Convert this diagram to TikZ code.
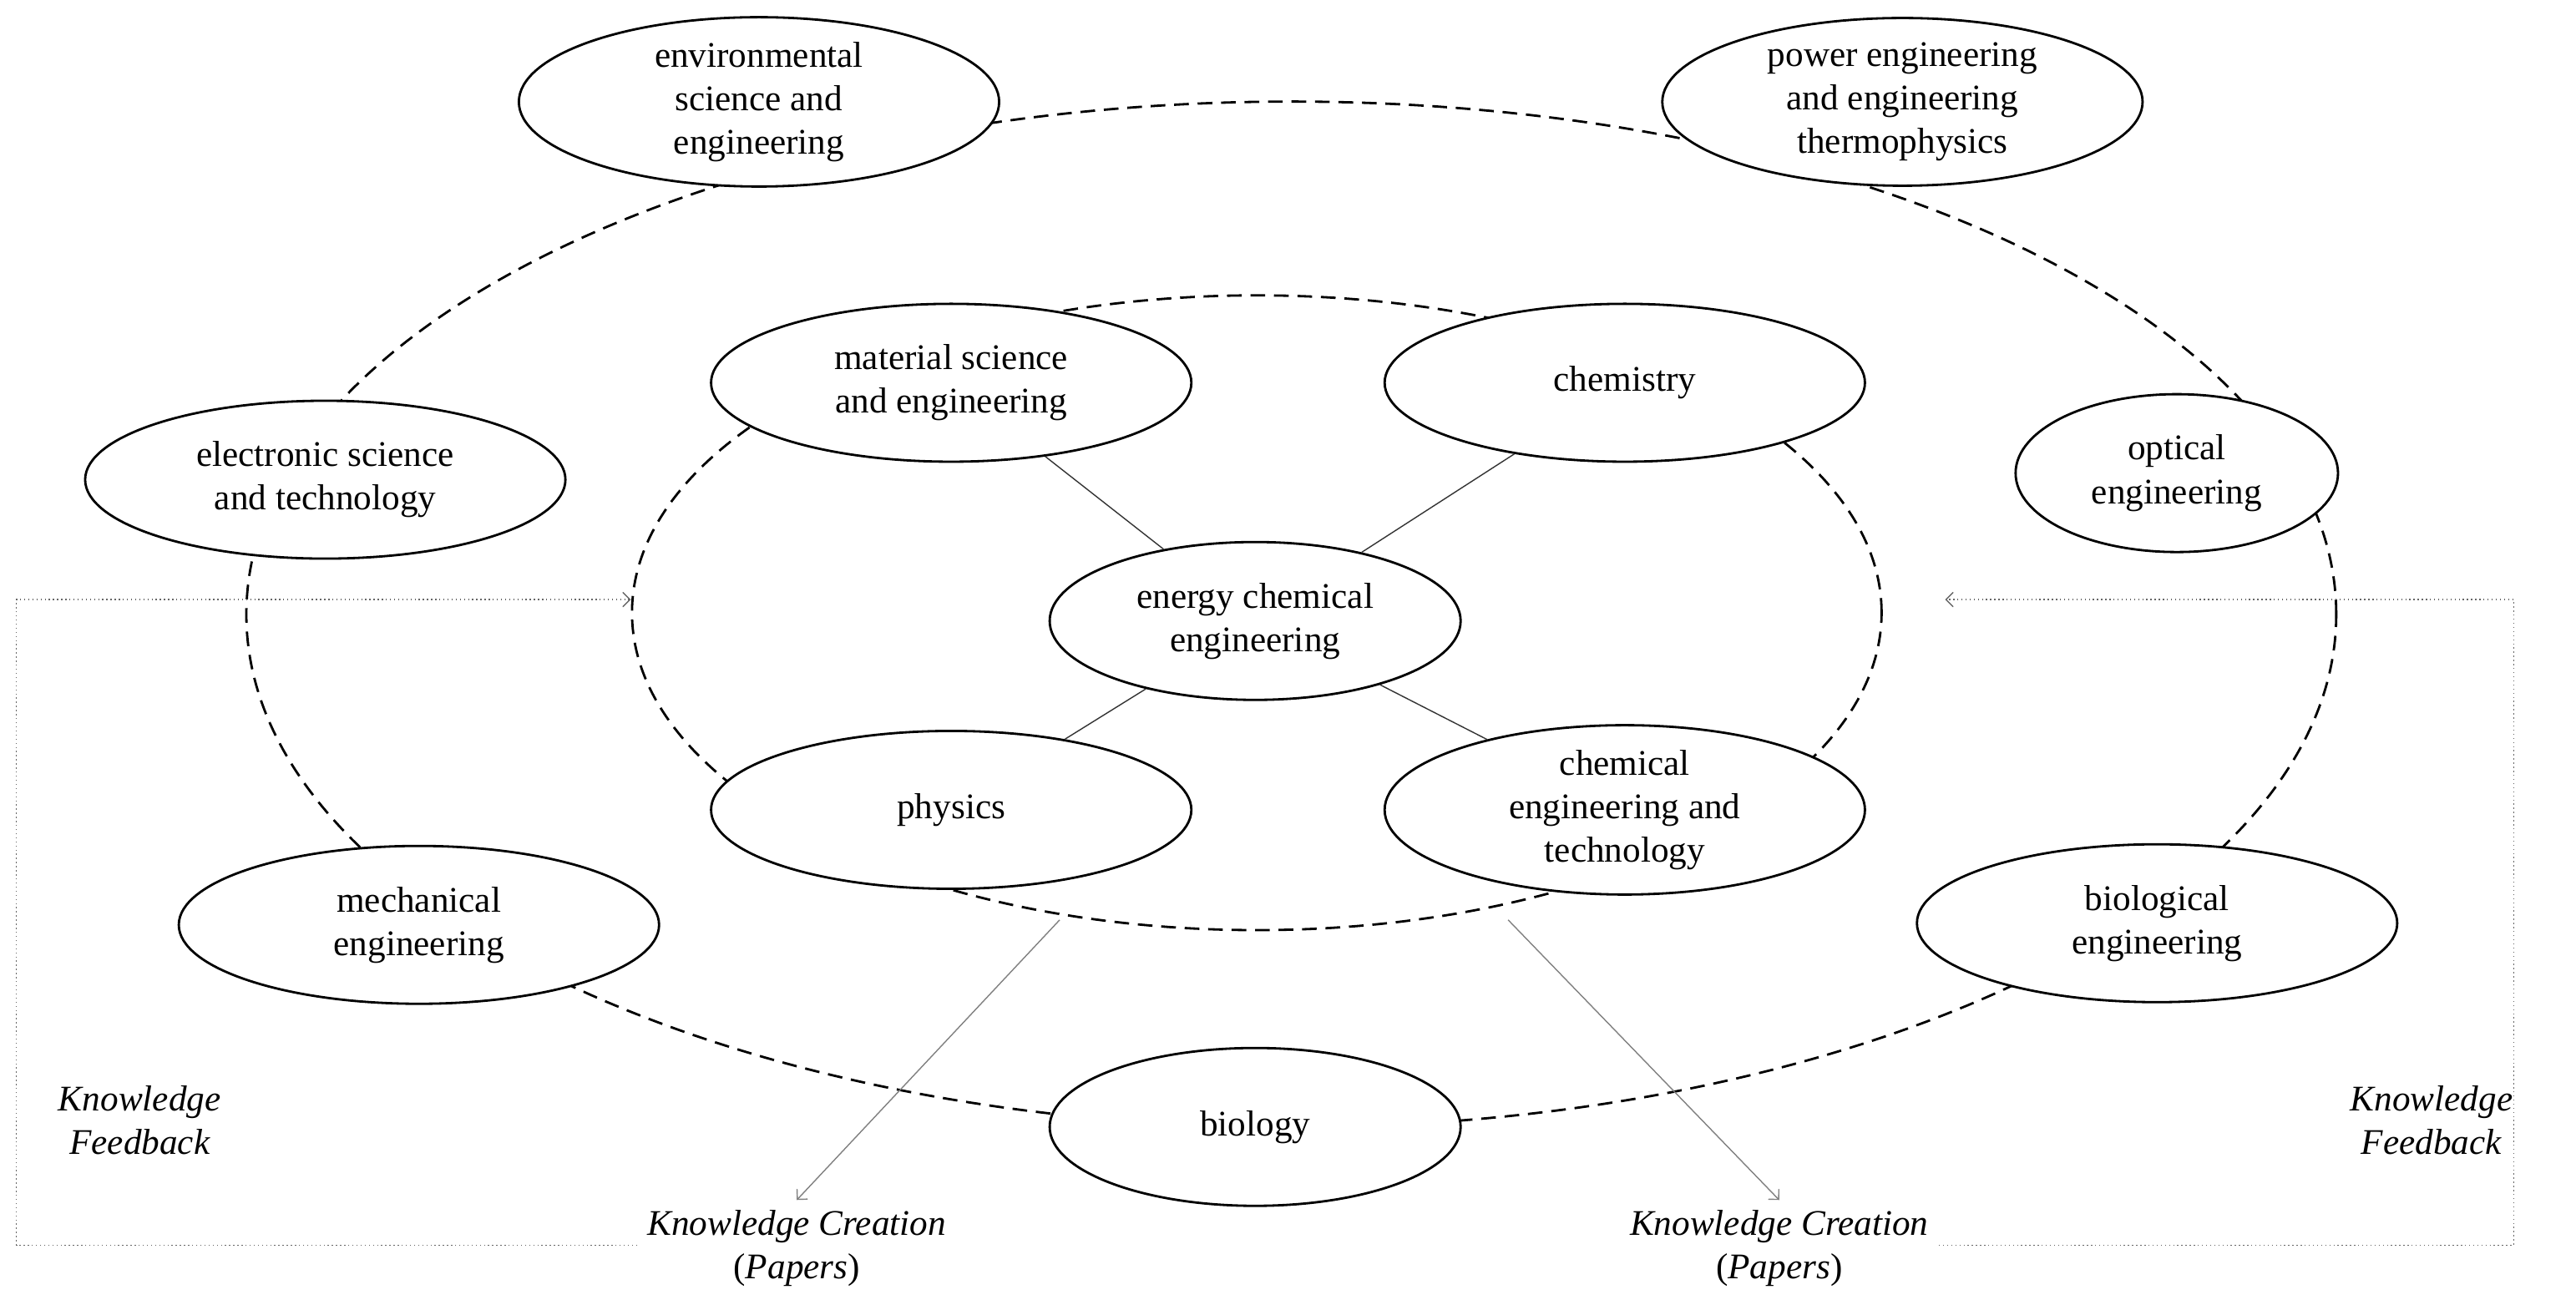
\documentclass[tikz,border=0pt]{standalone}
\usepackage{fontspec}
\setmainfont{Liberation Serif}
\usetikzlibrary{shapes.geometric, arrows, positioning}

\begin{document}
\begin{tikzpicture}[x=0.019675cm, y=-0.019675cm, font=\fontsize{12.3}{14.8}\selectfont]
    \tikzstyle{field} = [ellipse, minimum width=5.75cm, minimum height=1.89cm, inner sep=0pt, text centered, align=center, draw=black, thick, fill=white]
    \tikzstyle{ring} = [thick, dashed, dash pattern=on 5pt off 3pt]
    \tikzstyle{link} = [thin, draw=black!80]
    \tikzstyle{feedback} = [densely dotted, draw=black!60, ->, >=angle 90]
    \tikzstyle{create} = [draw=black!50, ->, >=angle 90]
    \tikzstyle{label} = [align=center, font=\fontsize{12.3}{14.8}\selectfont\itshape]

    \useasboundingbox (0,0) rectangle (1568,797);

    % dashed rings
    \draw [ring] (786,374) ellipse [x radius=12.51cm, y radius=6.14cm];
    \draw [ring] (765,373) ellipse [x radius=7.48cm, y radius=3.80cm];

    % outer fields
    \node (env) [field] at (462,62) {environmental\\science and\\engineering};
    \node (power) [field] at (1158,62) {power engineering\\and engineering\\thermophysics};
    \node (elec) [field] at (198,292) {electronic science\\and technology};
    \node (optic) [field, minimum width=3.86cm] at (1325,288) {optical\\engineering};
    \node (mech) [field] at (255,563) {mechanical\\engineering};
    \node (bioeng) [field] at (1313,562) {biological\\engineering};
    \node (bio) [field, minimum width=4.92cm] at (764,686) {biology};

    % inner fields
    \node (mat) [field] at (579,233) {material science\\and engineering};
    \node (chem) [field] at (989,233) {chemistry};
    \node (phys) [field] at (579,493) {physics};
    \node (cheng) [field] at (989,493) {chemical\\engineering and\\technology};
    \node (energy) [field, minimum width=4.92cm] at (764,378) {energy chemical\\engineering};

    \draw [link] (energy) -- (mat);
    \draw [link] (energy) -- (chem);
    \draw [link] (energy) -- (phys);
    \draw [link] (energy) -- (cheng);

    % knowledge creation
    \coordinate (srcL) at (645,560);
    \coordinate (srcR) at (918,560);
    \node (papL) [label] at (485,760) {Knowledge Creation\\\textup{(}Papers\textup{)}};
    \node (papR) [label] at (1083,760) {Knowledge Creation\\\textup{(}Papers\textup{)}};
    \draw [create] (srcL) -- (papL.north);
    \draw [create] (srcR) -- (papR.north);

    % knowledge feedback
    \node (fbL) [label] at (85,682) {Knowledge\\Feedback};
    \node (fbR) [label] at (1480,682) {Knowledge\\Feedback};
    \coordinate (inL) at (384,365);
    \coordinate (inR) at (1184,365);
    \draw [feedback] (papL.west |- 0,758) -- (10,758) -- (10,365) -- (inL);
    \draw [feedback] (papR.east |- 0,758) -- (1530,758) -- (1530,365) -- (inR);

\end{tikzpicture}
\end{document}
